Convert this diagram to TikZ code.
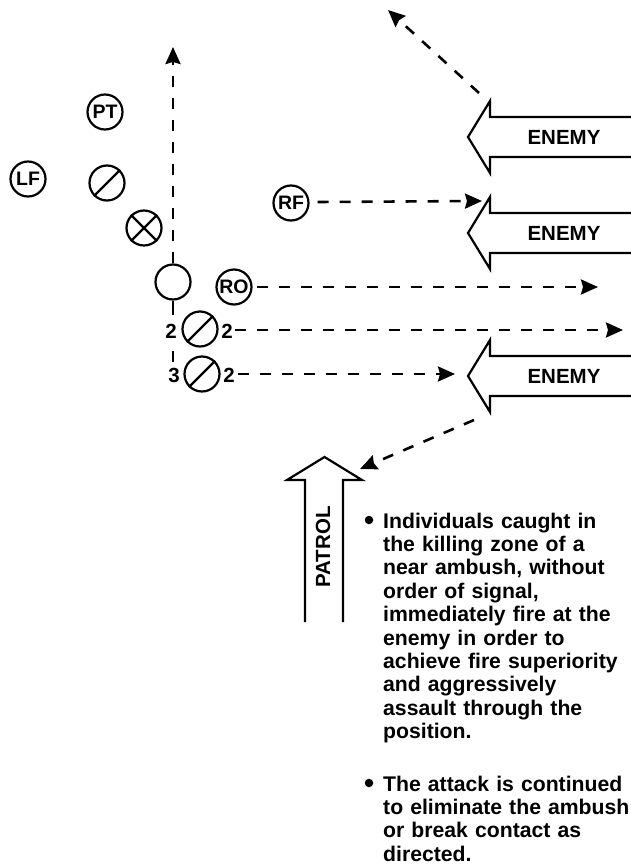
\documentclass[tikz,border=0pt]{standalone}
\usepackage{fontspec}
\setmainfont{Liberation Sans}
\usetikzlibrary{arrows.meta}
\begin{document}
\begin{tikzpicture}[x=1pt,y=-1pt,
  man/.style={circle,draw,line width=2.2pt,minimum size=35pt,inner sep=0pt,font=\fontsize{19.5}{19.5}\selectfont\bfseries},
  fireline/.style={line width=2.6pt,dash pattern=on 11pt off 11pt,-{Stealth[length=17pt,width=15pt,inset=2pt]}},
  shortseg/.style={line width=2.6pt},
  outline/.style={line width=2.2pt,line join=miter},
  lbl/.style={font=\fontsize{20.5}{20.5}\selectfont\bfseries,inner sep=0pt},
  para/.style={font=\fontsize{21.2}{23.4}\selectfont\bfseries,inner sep=0pt,align=left,anchor=base west,text width=260pt},
  bullet/.style={circle,fill,inner sep=0pt,minimum size=8.5pt},
  enemyarrow/.pic={
    \draw[outline] (170,-20) -- (22,-20) -- (22,-36) -- (0,0) -- (22,36) -- (22,20) -- (170,20);
    \node[lbl] (-txt) at (96,0) {ENEMY};
  }]
\useasboundingbox (0,0) rectangle (631,867);

% soldiers
\node[man] (pt) at (105,112) {PT};
\node[man] (lf) at (28,179) {LF};
\node[man] (s1) at (107,183) {};
\draw[line width=2.2pt] (s1.south west) -- (s1.north east);
\node[man] (x1) at (144,228) {};
\draw[line width=2.2pt] (x1.north west) -- (x1.south east) (x1.north east) -- (x1.south west);
\node[man] (c0) at (173,282) {};
\node[man] (rf) at (291,203) {RF};
\node[man] (ro) at (234,287) {RO};
\node[man] (s2) at (200,329) {};
\draw[line width=2.2pt] (s2.south west) -- (s2.north east);
\node[man] (s3) at (202,374) {};
\draw[line width=2.2pt] (s3.south west) -- (s3.north east);

\node[lbl] (n2a) at (171,331) {2};
\node[lbl] (n2b) at (227,331) {2};
\node[lbl] (n3a) at (174,375) {3};
\node[lbl] (n2c) at (229,375) {2};

% enemy arrows
\pic (e1) at (468,137) {enemyarrow};
\pic (e2) at (468,233) {enemyarrow};
\pic (e3) at (468,376) {enemyarrow};

% patrol arrow
\draw[outline] (305,622) -- (305,480) -- (287,480) -- (324.5,457) -- (362,480) -- (343,480) -- (343,622);
\node[lbl,rotate=90] (patrol) at (323,547) {PATROL};

% coordinates for free ends
\coordinate (vtop) at (173,47);
\coordinate (seg1) at (173,315);
\coordinate (seg2a) at (173,351);
\coordinate (seg2b) at (173,362);
\coordinate (rfend) at (482,201);
\coordinate (roend) at (598,287);
\coordinate (l2end) at (623,330);
\coordinate (l3end) at (455,374);
\coordinate (d1s) at (479,93);
\coordinate (d1e) at (388,10);
\coordinate (d2s) at (474,420);
\coordinate (d2e) at (360,469);

% movement / fire lines
\draw[fireline] (c0.north) -- (vtop);
\draw[shortseg] (c0.south) -- (seg1);
\draw[shortseg] (seg2a) -- (seg2b);
\draw[fireline] (rf.east) ++(8,-1) -- (rfend);
\draw[fireline,shorten <=4pt] (ro.east) -- (roend);
\draw[fireline] (n2b.east) ++(2,-1) -- (l2end);
\draw[fireline] (n2c.east) ++(3,-1) -- (l3end);
\draw[fireline] (d1s) -- (d1e);
\draw[fireline] (d2s) -- (d2e);

% text
\node[bullet] (b1) at (369,520) {};
\node[para] (t1) at (383,528) {Individuals caught in\\the killing zone of a\\near ambush, without\\order of signal,\\immediately fire at the\\enemy in order to\\achieve fire superiority\\and aggressively\\assault through the\\position.};
\node[bullet] (b2) at (369,783) {};
\node[para] (t2) at (383,791) {The attack is continued\\to eliminate the ambush\\or break contact as\\directed.};
\end{tikzpicture}
\end{document}
